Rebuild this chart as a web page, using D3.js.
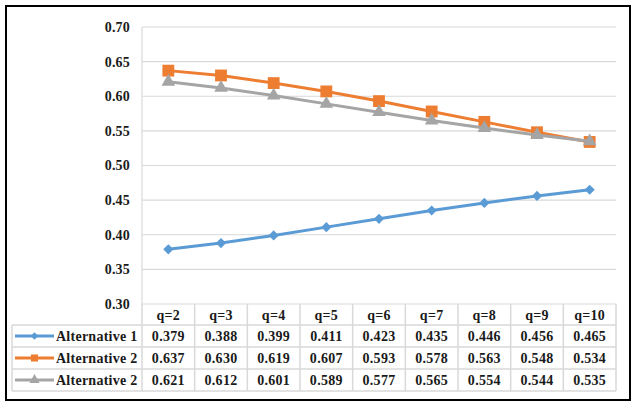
<!DOCTYPE html>
<html>
<head>
<meta charset="utf-8">
<script src="https://cdn.jsdelivr.net/npm/d3@7/dist/d3.min.js"></script>
<style>
  html, body { margin: 0; padding: 0; background: #fff; }
  svg { display: block; }
</style>
</head>
<body>
<svg id="chart" width="633" height="403" font-family="'Liberation Serif', 'Times New Roman', serif" font-weight="bold"></svg>
<script>
// Categories and series values
const categories = ["q=2", "q=3", "q=4", "q=5", "q=6", "q=7", "q=8", "q=9", "q=10"];
const alt1 = [0.379, 0.388, 0.399, 0.411, 0.423, 0.435, 0.446, 0.456, 0.465];
const alt2 = [0.637, 0.630, 0.619, 0.607, 0.593, 0.578, 0.563, 0.548, 0.534];
const alt3 = [0.621, 0.612, 0.601, 0.589, 0.577, 0.565, 0.554, 0.544, 0.535];
const seriesNames = ["Alternative 1", "Alternative 2", "Alternative 2"];
const seriesColors = ["#5B9BD5", "#ED7D31", "#A5A5A5"];
const yTicks = [0.30, 0.35, 0.40, 0.45, 0.50, 0.55, 0.60, 0.65, 0.70];

// marker shapes: diamond (rotated square), square, triangle
const shapes = [
  { type: d3.symbolSquare, rotate: 45 },
  { type: d3.symbolSquare, rotate: 0 },
  { type: d3.symbolTriangle, rotate: 0 }
];

const series = [alt1, alt2, alt3].map((values, i) => ({
  name: seriesNames[i], color: seriesColors[i], shape: shapes[i], values
}));

const svg = d3.select("#chart");
const plot = { left: 142, right: 616, top: 27, bottom: 304 };
const tableLeft = 12;
const headerH = 21;
const rowH = 22;
const textColor = "#1a1a1a";

// Outer frame
svg.append("rect")
  .attr("x", 6).attr("y", 6).attr("width", 624).attr("height", 394)
  .attr("fill", "#fff").attr("stroke", "#000").attr("stroke-width", 2);

const x = d3.scaleBand().domain(categories).range([plot.left, plot.right]);
const y = d3.scaleLinear().domain([0.30, 0.70]).range([plot.bottom, plot.top]);
const cx = c => x(c) + x.bandwidth() / 2;

// Horizontal gridlines
svg.append("g").selectAll("line").data(yTicks).join("line")
  .attr("x1", plot.left).attr("x2", plot.right)
  .attr("y1", d => y(d)).attr("y2", d => y(d))
  .attr("stroke", "#d9d9d9").attr("stroke-width", 1.2);

// Y axis labels
svg.append("g").selectAll("text").data(yTicks).join("text")
  .attr("x", 130).attr("y", d => y(d))
  .attr("dy", "0.35em").attr("text-anchor", "end")
  .attr("font-size", 14).attr("letter-spacing", 0.2).attr("fill", textColor)
  .text(d => d3.format(".2f")(d));

// Vertical axis line
svg.append("line")
  .attr("x1", plot.left).attr("x2", plot.left)
  .attr("y1", plot.top).attr("y2", plot.bottom)
  .attr("stroke", "#d9d9d9").attr("stroke-width", 1.2);

// Data table
const tableTop = plot.bottom;
const rowsTop = tableTop + headerH;
const tableBottom = rowsTop + rowH * series.length;
const grid = svg.append("g").attr("stroke", "#d9d9d9").attr("stroke-width", 1.5);

const colEdges = categories.map(c => x(c)).concat([plot.right]);
grid.selectAll("line.col").data(colEdges).join("line").attr("class", "col")
  .attr("x1", d => d).attr("x2", d => d)
  .attr("y1", tableTop).attr("y2", tableBottom);
grid.append("line").attr("x1", tableLeft).attr("x2", tableLeft)
  .attr("y1", rowsTop).attr("y2", tableBottom);
const rowEdges = d3.range(series.length + 1).map(i => rowsTop + i * rowH);
grid.selectAll("line.row").data(rowEdges).join("line").attr("class", "row")
  .attr("x1", tableLeft).attr("x2", plot.right)
  .attr("y1", d => d).attr("y2", d => d);

// header labels
svg.append("g").selectAll("text").data(categories).join("text")
  .attr("x", d => cx(d))
  .attr("y", tableTop + headerH / 2 + 1)
  .attr("dy", "0.35em").attr("text-anchor", "middle")
  .attr("font-size", 14).attr("letter-spacing", 0.3).attr("fill", textColor)
  .text(d => d);

const symbolPath = (shape, size) => d3.symbol().type(shape.type).size(size)();

// rows: legend key + values
const keySize = [30, 50, 45];
series.forEach((s, i) => {
  const cy = rowsTop + i * rowH + rowH / 2;
  svg.append("line")
    .attr("x1", 15).attr("x2", 54).attr("y1", cy).attr("y2", cy)
    .attr("stroke", s.color).attr("stroke-width", 3);
  svg.append("path")
    .attr("d", symbolPath(s.shape, keySize[i]))
    .attr("transform", `translate(34.5,${cy}) rotate(${s.shape.rotate})`)
    .attr("fill", s.color);
  svg.append("text")
    .attr("x", 56).attr("y", cy).attr("dy", "0.35em")
    .attr("font-size", 14).attr("letter-spacing", 0.25).attr("fill", textColor)
    .text(s.name);
  svg.append("g").selectAll("text").data(s.values).join("text")
    .attr("x", (d, j) => cx(categories[j]))
    .attr("y", cy).attr("dy", "0.35em").attr("text-anchor", "middle")
    .attr("font-size", 14).attr("letter-spacing", 0.3).attr("fill", textColor)
    .text(d => d3.format(".3f")(d));
});

// Lines and markers, drawn in series order so later series sit on top
const line = d3.line()
  .x((d, j) => cx(categories[j]))
  .y(d => y(d));

const markerSize = [52, 140, 80];
series.forEach((s, i) => {
  svg.append("path").datum(s.values)
    .attr("d", line)
    .attr("fill", "none").attr("stroke", s.color)
    .attr("stroke-width", 3).attr("stroke-linejoin", "round");
  svg.append("g").selectAll("path").data(s.values).join("path")
    .attr("d", symbolPath(s.shape, markerSize[i]))
    .attr("transform", (d, j) => `translate(${cx(categories[j])},${y(d)}) rotate(${s.shape.rotate})`)
    .attr("fill", s.color);
});
</script>
</body>
</html>
